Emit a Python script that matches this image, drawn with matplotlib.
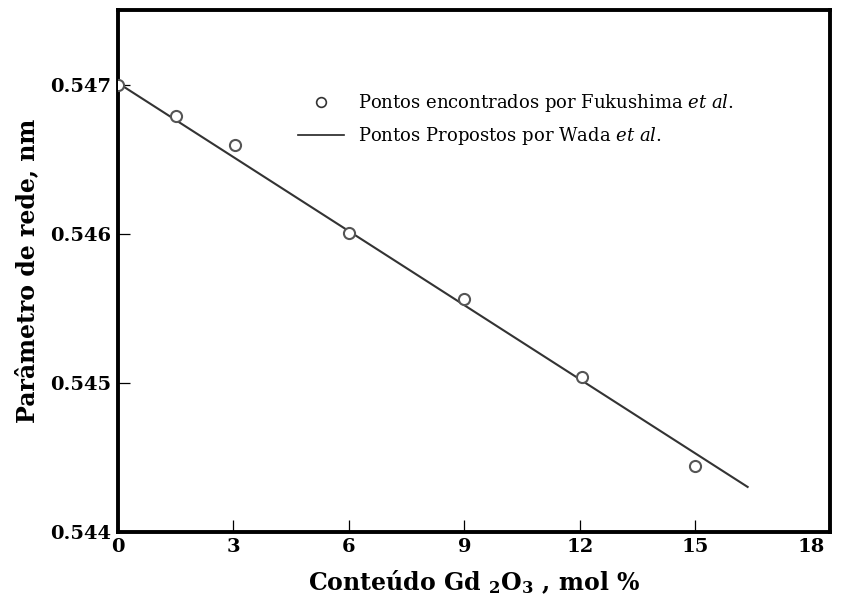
import matplotlib
matplotlib.use('Agg')
from matplotlib import pyplot as plt
from matplotlib.lines import Line2D

# Fukushima et al. points (Gd2O3 mol %, lattice parameter nm)
gd_x = [0, 1.5, 3.05, 6, 9, 12.05, 15]
a_pts = [0.54700, 0.546792, 0.546597, 0.546007, 0.545564, 0.545040, 0.544443]

# Wada et al. line (end points)
line_x = [0, 16.36]
line_y = [0.54701, 0.544302]

x_ticks = [0, 3, 6, 9, 12, 15, 18]
y_ticks = [0.544, 0.545, 0.546, 0.547]
y_labels = ['0.544', '0.545', '0.546', '0.547']

plt.rcParams['font.family'] = ['DejaVu Serif']
plt.rcParams['mathtext.fontset'] = 'dejavuserif'


def run():
    fig = plt.figure(figsize=(8.44, 6.07), dpi=100)
    ax = fig.add_axes([0.1398, 0.1236, 0.8436, 0.860])

    ax.plot(line_x, line_y, color='#333333', lw=1.5, zorder=2)
    ax.plot(gd_x, a_pts, 'o', ms=8, mfc='white', mec='#555555', mew=1.5,
            ls='none', zorder=3)

    ax.set_xlim(0, 18.5)
    ax.set_ylim(0.544, 0.5475)
    ax.set_xticks(x_ticks)
    ax.set_yticks(y_ticks)
    ax.set_yticklabels(y_labels)
    ax.tick_params(direction='in', length=8.5, width=0.9, labelsize=14, pad=5)
    ax.tick_params(axis='x', pad=4)
    # reference puts the 18 at the corner without a visible tick
    ax.xaxis.get_major_ticks()[-1].tick1line.set_visible(False)
    for lab in ax.get_xticklabels() + ax.get_yticklabels():
        lab.set_fontweight('bold')
    for sp in ax.spines.values():
        sp.set_linewidth(2.8)

    ax.set_xlabel(r'Conteúdo Gd $_\mathbf{2}$O$_\mathbf{3}$ , mol %',
                  fontsize=17, fontweight='bold', labelpad=9)
    ax.set_ylabel('Parâmetro de rede, nm', fontsize=17, fontweight='bold',
                  labelpad=8)

    handles = [
        Line2D([], [], marker='o', ls='none', ms=7, mfc='white',
               mec='#333333', mew=1.2),
        Line2D([], [], color='#222222', lw=1.2),
    ]
    labels = [r'Pontos encontrados por Fukushima $\it{et\ al.}$',
              r'Pontos Propostos por Wada $\it{et\ al.}$']
    ax.legend(handles, labels, loc='upper left', bbox_to_anchor=(0.242, 0.856),
              frameon=False, fontsize=13, handlelength=2.6,
              handletextpad=0.75, labelspacing=0.6, borderaxespad=0)

    fig.savefig('out.png', dpi=100)


if __name__ == '__main__':
    run()
